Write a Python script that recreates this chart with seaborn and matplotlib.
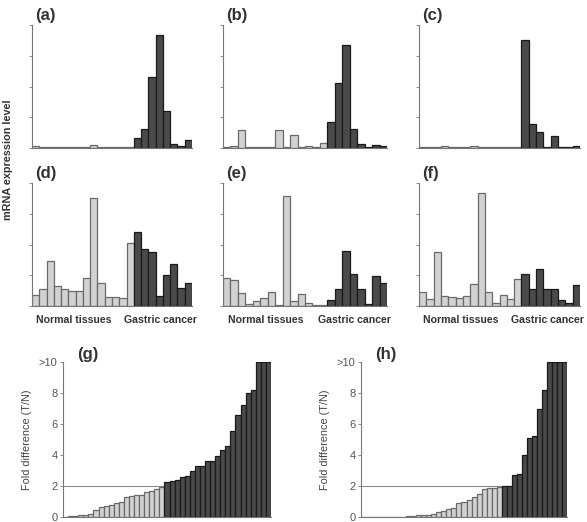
import numpy as np
import pandas as pd
import seaborn as sns
import matplotlib.pyplot as plt

# expression levels, 14 normal tissues followed by 8 gastric cancers
n_normal = 14
expr_a = [0.05, 0.03, 0.03, 0.03, 0.03, 0.04, 0.02, 0.02, 0.1, 0.03, 0.02, 0.02, 0.03, 0.04,
          0.32, 0.62, 2.3, 3.68, 1.21, 0.14, 0.08, 0.27]
expr_b = [0.03, 0.05, 0.6, 0.03, 0.02, 0.02, 0.03, 0.6, 0.03, 0.43, 0.02, 0.08, 0.02, 0.16,
          0.83, 2.1, 3.35, 0.62, 0.14, 0.03, 0.1, 0.05]
expr_c = [0.03, 0.02, 0.03, 0.05, 0.02, 0.04, 0.02, 0.05, 0.04, 0.02, 0.02, 0.02, 0.03, 0.03,
          3.5, 0.79, 0.51, 0.03, 0.38, 0.02, 0.04, 0.05]
expr_d = [0.36, 0.54, 1.45, 0.65, 0.54, 0.5, 0.5, 0.9, 3.51, 0.74, 0.3, 0.3, 0.25, 2.04,
          2.42, 1.85, 1.77, 0.33, 1.01, 1.37, 0.58, 0.76]
expr_e = [0.9, 0.83, 0.41, 0.07, 0.17, 0.25, 0.47, 0.03, 3.57, 0.17, 0.38, 0.09, 0.03, 0.03,
          0.2, 0.54, 1.79, 1.04, 0.54, 0.07, 0.96, 0.76]
expr_f = [0.47, 0.22, 1.74, 0.33, 0.3, 0.25, 0.33, 0.72, 3.67, 0.47, 0.09, 0.36, 0.22, 0.87,
          1.04, 0.54, 1.2, 0.54, 0.54, 0.2, 0.11, 0.68]

# fold difference tumour / normal, sorted (values > 10 clipped at 10)
fold_g = [0.03, 0.05, 0.08, 0.1, 0.12, 0.2, 0.45, 0.65, 0.7, 0.8, 0.9, 0.95, 1.3, 1.35,
          1.4, 1.4, 1.6, 1.65, 1.8, 1.95,
          2.24, 2.3, 2.37, 2.6, 2.67, 3.0, 3.3, 3.3, 3.6, 3.6, 3.95, 4.3, 4.6, 5.55, 6.6,
          7.2, 8.0, 8.2, 10, 10, 10]
fold_h = [0.02, 0.02, 0.02, 0.02, 0.02, 0.02, 0.02, 0.03, 0.03, 0.05, 0.07, 0.1, 0.12, 0.15,
          0.2, 0.3, 0.4, 0.5, 0.6, 0.9, 1.0, 1.1, 1.3, 1.5, 1.8, 1.85, 1.9, 1.95,
          2.0, 2.0, 2.7, 2.75, 4.0, 5.1, 5.2, 7.0, 8.2, 10, 10, 10, 10]

light = '#d2d2d2'
dark = '#4a4a4a'
grey = '#777777'
txt = '#333333'

sns.set_theme(style='white')
plt.rcParams['font.family'] = ['Liberation Sans', 'DejaVu Sans']

fig = plt.figure(figsize=(5.87, 5.22), dpi=100)


def bars(ax, vals, n_light):
    df = pd.DataFrame({'i': range(len(vals)), 'v': vals,
                       'g': ['N'] * n_light + ['T'] * (len(vals) - n_light)})
    sns.barplot(data=df, x='i', y='v', hue='g', palette={'N': light, 'T': dark},
                dodge=False, width=1.0, linewidth=0.9, legend=False, ax=ax)
    for p in ax.patches:
        fc = p.get_facecolor()
        p.set_edgecolor('#6a6a6a' if fc[0] > 0.6 else '#1a1a1a')
    for s in ['top', 'right']:
        ax.spines[s].set_visible(False)
    for s in ['left', 'bottom']:
        ax.spines[s].set_color(grey)
        ax.spines[s].set_linewidth(0.8)
    ax.set_xlabel('')
    ax.set_ylabel('')


panels = [('(a)', expr_a), ('(b)', expr_b), ('(c)', expr_c),
          ('(d)', expr_d), ('(e)', expr_e), ('(f)', expr_f)]
lefts = [(32, 160), (223, 164), (419, 161)]
for k, (lab, vals) in enumerate(panels):
    x0, w = lefts[k % 3]
    ybot = 148 if k < 3 else 306
    ax = fig.add_axes([x0 / 587, 1 - ybot / 522, w / 587, 123 / 522])
    bars(ax, vals, n_normal)
    ax.set_ylim(0, 4)
    ax.set_yticks([0, 1, 2, 3, 4])
    ax.set_yticklabels([])
    ax.set_xticks([])
    ax.tick_params(axis='y', left=True, length=2, width=0.6, color=grey)
    ax.text(0.02, 1.02, lab, transform=ax.transAxes, fontsize=12,
            fontweight='bold', color=txt, va='bottom')
    if k >= 3:
        ax.text(0.26, -0.14, 'Normal tissues', transform=ax.transAxes, ha='center',
                fontsize=7.6, fontweight='bold', color=txt)
        ax.text(0.8, -0.14, 'Gastric cancer', transform=ax.transAxes, ha='center',
                fontsize=7.6, fontweight='bold', color=txt)

fig.text(8 / 587, 1 - 160 / 522, 'mRNA expression level', rotation=90, ha='center',
         va='center', fontsize=7.8, fontweight='bold', color=txt)

for lab, vals, x0, w, n_light in [('(g)', fold_g, 63, 208, 20), ('(h)', fold_h, 361, 206, 28)]:
    ax = fig.add_axes([x0 / 587, 1 - 517 / 522, w / 587, 155 / 522])
    bars(ax, vals, n_light)
    ax.axhline(2, color='#8a8a8a', lw=0.8, zorder=0.5)
    ax.set_ylim(0, 10)
    ax.set_yticks([0, 2, 4, 6, 8, 10])
    ax.set_yticklabels(['0', '2', '4', '6', '8', '>10'])
    ax.set_xticks([])
    ax.tick_params(axis='y', left=True, length=2.5, width=0.6, color=grey,
                   labelsize=8, labelcolor='#555555', pad=1.5)
    ax.set_ylabel('Fold difference (T/N)', fontsize=7.8, color='#444444', labelpad=5)
    ax.text(0.07, 1.0, lab, transform=ax.transAxes, fontsize=12,
            fontweight='bold', color=txt, va='bottom')

fig.savefig('out.png', dpi=100, facecolor='white')
